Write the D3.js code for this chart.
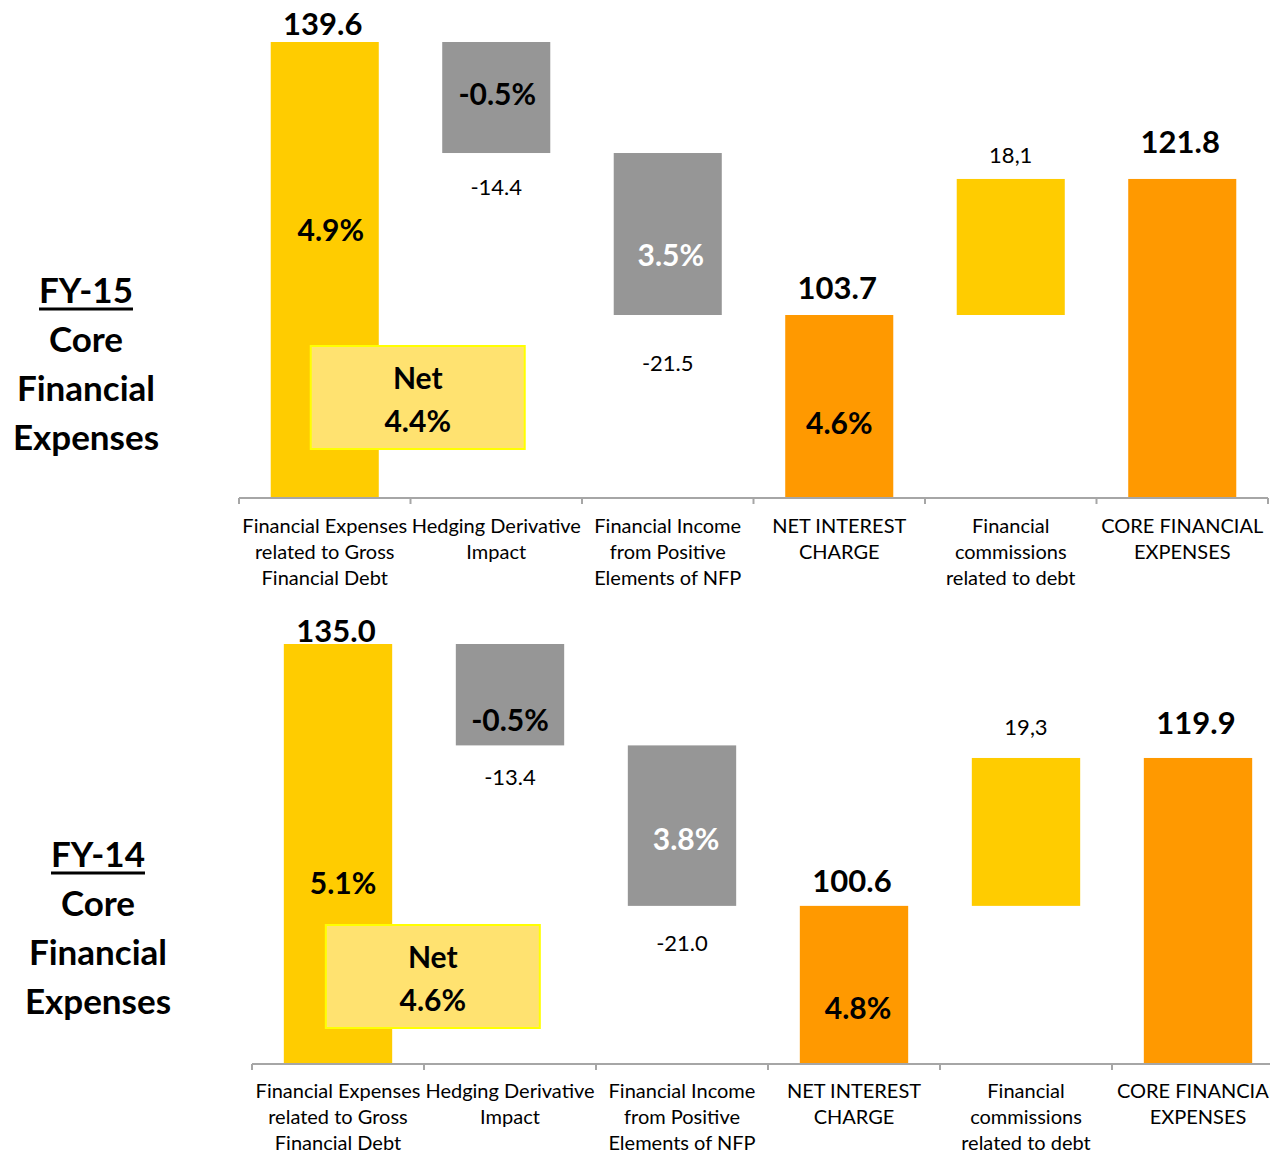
<!DOCTYPE html>
<html>
<head>
<meta charset="utf-8">
<title>Core Financial Expenses FY-15 vs FY-14</title>
<script src="https://cdn.jsdelivr.net/npm/d3@7/dist/d3.min.js"></script>
<style>
  html, body { margin: 0; padding: 0; background: #ffffff; }
  svg { display: block; }
  text { font-family: Lato, "Open Sans", sans-serif; fill: #000; }
</style>
</head>
<body>
<svg id="chart" width="1270" height="1155"></svg>
<script>
// ---- data -------------------------------------------------------------
const categories = [
  ["Financial Expenses", "related to Gross", "Financial Debt"],
  ["Hedging Derivative", "Impact"],
  ["Financial Income", "from Positive", "Elements of NFP"],
  ["NET INTEREST", "CHARGE"],
  ["Financial", "commissions", "related to debt"],
  ["CORE FINANCIAL", "EXPENSES"]
];
const stepKinds = ["start", "delta", "delta", "total", "delta", "total"];

const fy15Values = [139.6, -14.4, -21.5, 103.7, 18.1, 121.8];
const fy15ValueLabels = ["139.6", "-14.4", "-21.5", "103.7", "18,1", "121.8"];
const fy15Rates = ["4.9%", "-0.5%", "3.5%", "4.6%", null, null];
const fy15NetRate = "4.4%";

const fy14Values = [135.0, -13.4, -21.0, 100.6, 19.3, 119.9];
const fy14ValueLabels = ["135.0", "-13.4", "-21.0", "100.6", "19,3", "119.9"];
const fy14Rates = ["5.1%", "-0.5%", "3.8%", "4.8%", null, null];
const fy14NetRate = "4.6%";

const panelTitles = [
  ["FY-15", "Core", "Financial", "Expenses"],
  ["FY-14", "Core", "Financial", "Expenses"]
];

// ---- styling / layout -------------------------------------------------
const barColors = {
  start: "#FFCC00", down: "#969696", up: "#FFCC00", total: "#FF9900"
};
const panels = [
  {
    values: fy15Values, valueLabels: fy15ValueLabels, rates: fy15Rates, net: fy15NetRate,
    title: panelTitles[0], titleX: 86, titleY: 303,
    x0: 239, x1: 1268, base: 497, top: 42,
    // the vertical scale is drawn compressed between the running levels
    stops: [0, 0.400, 0.699, 0.756, 1],
    valueDy: [-7, 42, 56, -16, -16, -26],
    rateDy: [199, 63, 113, 119],
    rateDx: [6, 1, 3, 0],
    netBox: { dx: 40, y: 346 }, catY: 533
  },
  {
    values: fy14Values, valueLabels: fy14ValueLabels, rates: fy14Rates, net: fy14NetRate,
    title: panelTitles[1], titleX: 98, titleY: 867,
    x0: 252, x1: 1284, base: 1063, top: 644,
    stops: [0, 0.375, 0.728, 0.758, 1],
    valueDy: [-2, 40, 45, -14, -23, -24],
    rateDy: [250, 87, 105, 113],
    rateDx: [5, 0, 4, 4],
    netBox: { dx: 42, y: 925 }, catY: 1098
  }
];

const round1 = v => Math.round(v * 10) / 10;

const svg = d3.select("#chart");
svg.append("rect").attr("width", 1270).attr("height", 1155).attr("fill", "#fff");

panels.forEach(p => {
  const g = svg.append("g");

  // waterfall segments
  let run = 0;
  const steps = p.values.map((v, i) => {
    const kind = stepKinds[i];
    let lo, hi, color;
    if (kind === "start" || kind === "total") {
      lo = 0; hi = v; run = v;
      color = kind === "start" ? barColors.start : barColors.total;
    } else {
      const from = run; run = round1(run + v);
      lo = Math.min(from, run); hi = Math.max(from, run);
      color = v < 0 ? barColors.down : barColors.up;
    }
    return { i, v, kind, lo, hi, color, label: p.valueLabels[i], rate: p.rates[i] };
  });

  const levels = Array.from(new Set(steps.flatMap(s => [s.lo, s.hi]))).sort((a, b) => a - b);
  const y = d3.scaleLinear()
    .domain(levels)
    .range(p.stops.map(f => p.base - f * (p.base - p.top)));

  const x = d3.scaleBand()
    .domain(d3.range(categories.length))
    .range([p.x0, p.x1])
    .paddingInner(0.37)
    .paddingOuter(0.185);
  const step = x.step();

  // bars
  g.selectAll("rect.bar").data(steps).join("rect")
    .attr("class", "bar")
    .attr("x", d => x(d.i))
    .attr("width", x.bandwidth())
    .attr("y", d => y(d.hi))
    .attr("height", d => y(d.lo) - y(d.hi))
    .attr("fill", d => d.color);

  // category axis
  const axis = g.append("g");
  axis.append("line")
    .attr("x1", p.x0).attr("x2", p.x1)
    .attr("y1", p.base + 1).attr("y2", p.base + 1)
    .attr("stroke", "#a6a6a6").attr("stroke-width", 2);
  axis.selectAll("line.tick").data(d3.range(categories.length + 1)).join("line")
    .attr("class", "tick")
    .attr("x1", i => p.x0 + i * step).attr("x2", i => p.x0 + i * step)
    .attr("y1", p.base + 1).attr("y2", p.base + 7)
    .attr("stroke", "#a6a6a6").attr("stroke-width", 2);

  const cat = axis.selectAll("text.cat").data(categories).join("text")
    .attr("class", "cat")
    .attr("text-anchor", "middle")
    .attr("font-size", 20)
    .attr("x", (d, i) => x(i) + x.bandwidth() / 2)
    .attr("y", p.catY);
  cat.selectAll("tspan").data(d => d).join("tspan")
    .attr("x", function () { return this.parentNode.getAttribute("x"); })
    .attr("dy", (d, j) => j === 0 ? 0 : 26)
    .text(d => d);

  // value labels
  g.selectAll("text.val").data(steps).join("text")
    .attr("class", "val")
    .attr("text-anchor", "middle")
    .attr("x", d => x(d.i) + x.bandwidth() / 2 - (d.kind === "delta" ? 0 : 2))
    .attr("y", d => (d.kind === "delta" && d.v < 0 ? y(d.lo) : y(d.hi)) + p.valueDy[d.i])
    .attr("font-size", d => d.kind === "delta" ? 22 : 31)
    .attr("font-weight", d => d.kind === "delta" ? 400 : 700)
    .text(d => d.label);

  // rate labels inside bars
  g.selectAll("text.rate").data(steps.filter(s => s.rate)).join("text")
    .attr("class", "rate")
    .attr("text-anchor", "middle")
    .attr("x", d => x(d.i) + x.bandwidth() / 2 + p.rateDx[d.i])
    .attr("y", d => y(d.hi) + p.rateDy[d.i])
    .attr("font-size", 30)
    .attr("font-weight", 700)
    .style("fill", d => d.i === 2 ? "#ffffff" : "#000000")
    .text(d => d.rate);

  // net rate callout
  const bx = x(0) + p.netBox.dx, bw = 214, bh = 103;
  g.append("rect")
    .attr("x", bx).attr("y", p.netBox.y)
    .attr("width", bw).attr("height", bh)
    .attr("fill", "#FFE270")
    .attr("stroke", "#FFFF00").attr("stroke-width", 2);
  g.append("text")
    .attr("text-anchor", "middle").attr("font-size", 30).attr("font-weight", 700)
    .attr("x", bx + bw / 2).attr("y", p.netBox.y + 43)
    .text("Net");
  g.append("text")
    .attr("text-anchor", "middle").attr("font-size", 30).attr("font-weight", 700)
    .attr("x", bx + bw / 2).attr("y", p.netBox.y + 86)
    .text(p.net);

  // panel title on the left
  const t = g.append("g");
  p.title.forEach((line, j) => {
    const tx = t.append("text")
      .attr("text-anchor", "middle")
      .attr("font-size", 35).attr("font-weight", 700)
      .attr("x", p.titleX).attr("y", p.titleY + j * 49)
      .text(line);
    if (j === 0) {
      const w = tx.node().getComputedTextLength();
      t.append("line")
        .attr("x1", p.titleX - w / 2).attr("x2", p.titleX + w / 2)
        .attr("y1", p.titleY + 6).attr("y2", p.titleY + 6)
        .attr("stroke", "#000").attr("stroke-width", 3);
    }
  });
});
</script>
</body>
</html>
